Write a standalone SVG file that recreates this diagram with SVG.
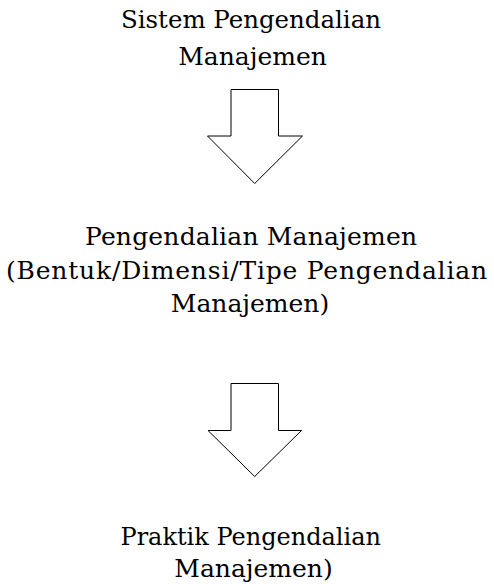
<svg xmlns="http://www.w3.org/2000/svg" width="494" height="584" viewBox="0 0 494 584">
  <style>
    .label { font-family: "DejaVu Serif", "Liberation Serif", serif; font-size: 25px; fill: #000; }
    .mid { text-anchor: middle; }
    .flow { fill: #fff; stroke: #000; stroke-width: 1; }
  </style>
  <rect width="494" height="584" fill="#fff"/>

  <g id="node-sistem">
    <text class="label" x="121" y="28" textLength="260" lengthAdjust="spacingAndGlyphs">Sistem Pengendalian</text>
    <text class="label mid" x="252.5" y="65">Manajemen</text>
  </g>

  <g id="node-pengendalian">
    <text class="label" x="85" y="245" textLength="332" lengthAdjust="spacing">Pengendalian Manajemen</text>
    <text class="label" x="6" y="278.5" textLength="481" lengthAdjust="spacing">(Bentuk/Dimensi/Tipe Pengendalian</text>
    <text class="label mid" x="250" y="312">Manajemen)</text>
  </g>

  <g id="node-praktik">
    <text class="label" x="120.5" y="545" textLength="260.5" lengthAdjust="spacingAndGlyphs">Praktik Pengendalian</text>
    <text class="label mid" x="253.5" y="577">Manajemen)</text>
  </g>

  <g id="connectors">
    <!-- block arrows pointing down -->
    <path class="flow" d="M231,89.5 H278.5 V136 H302.5 L254.7,183.5 L207.5,136 H231 Z"/>
    <path class="flow" d="M231,383.5 H278.5 V430.5 H301.5 L254.7,476.5 L208,430.5 H231 Z"/>
  </g>
</svg>
